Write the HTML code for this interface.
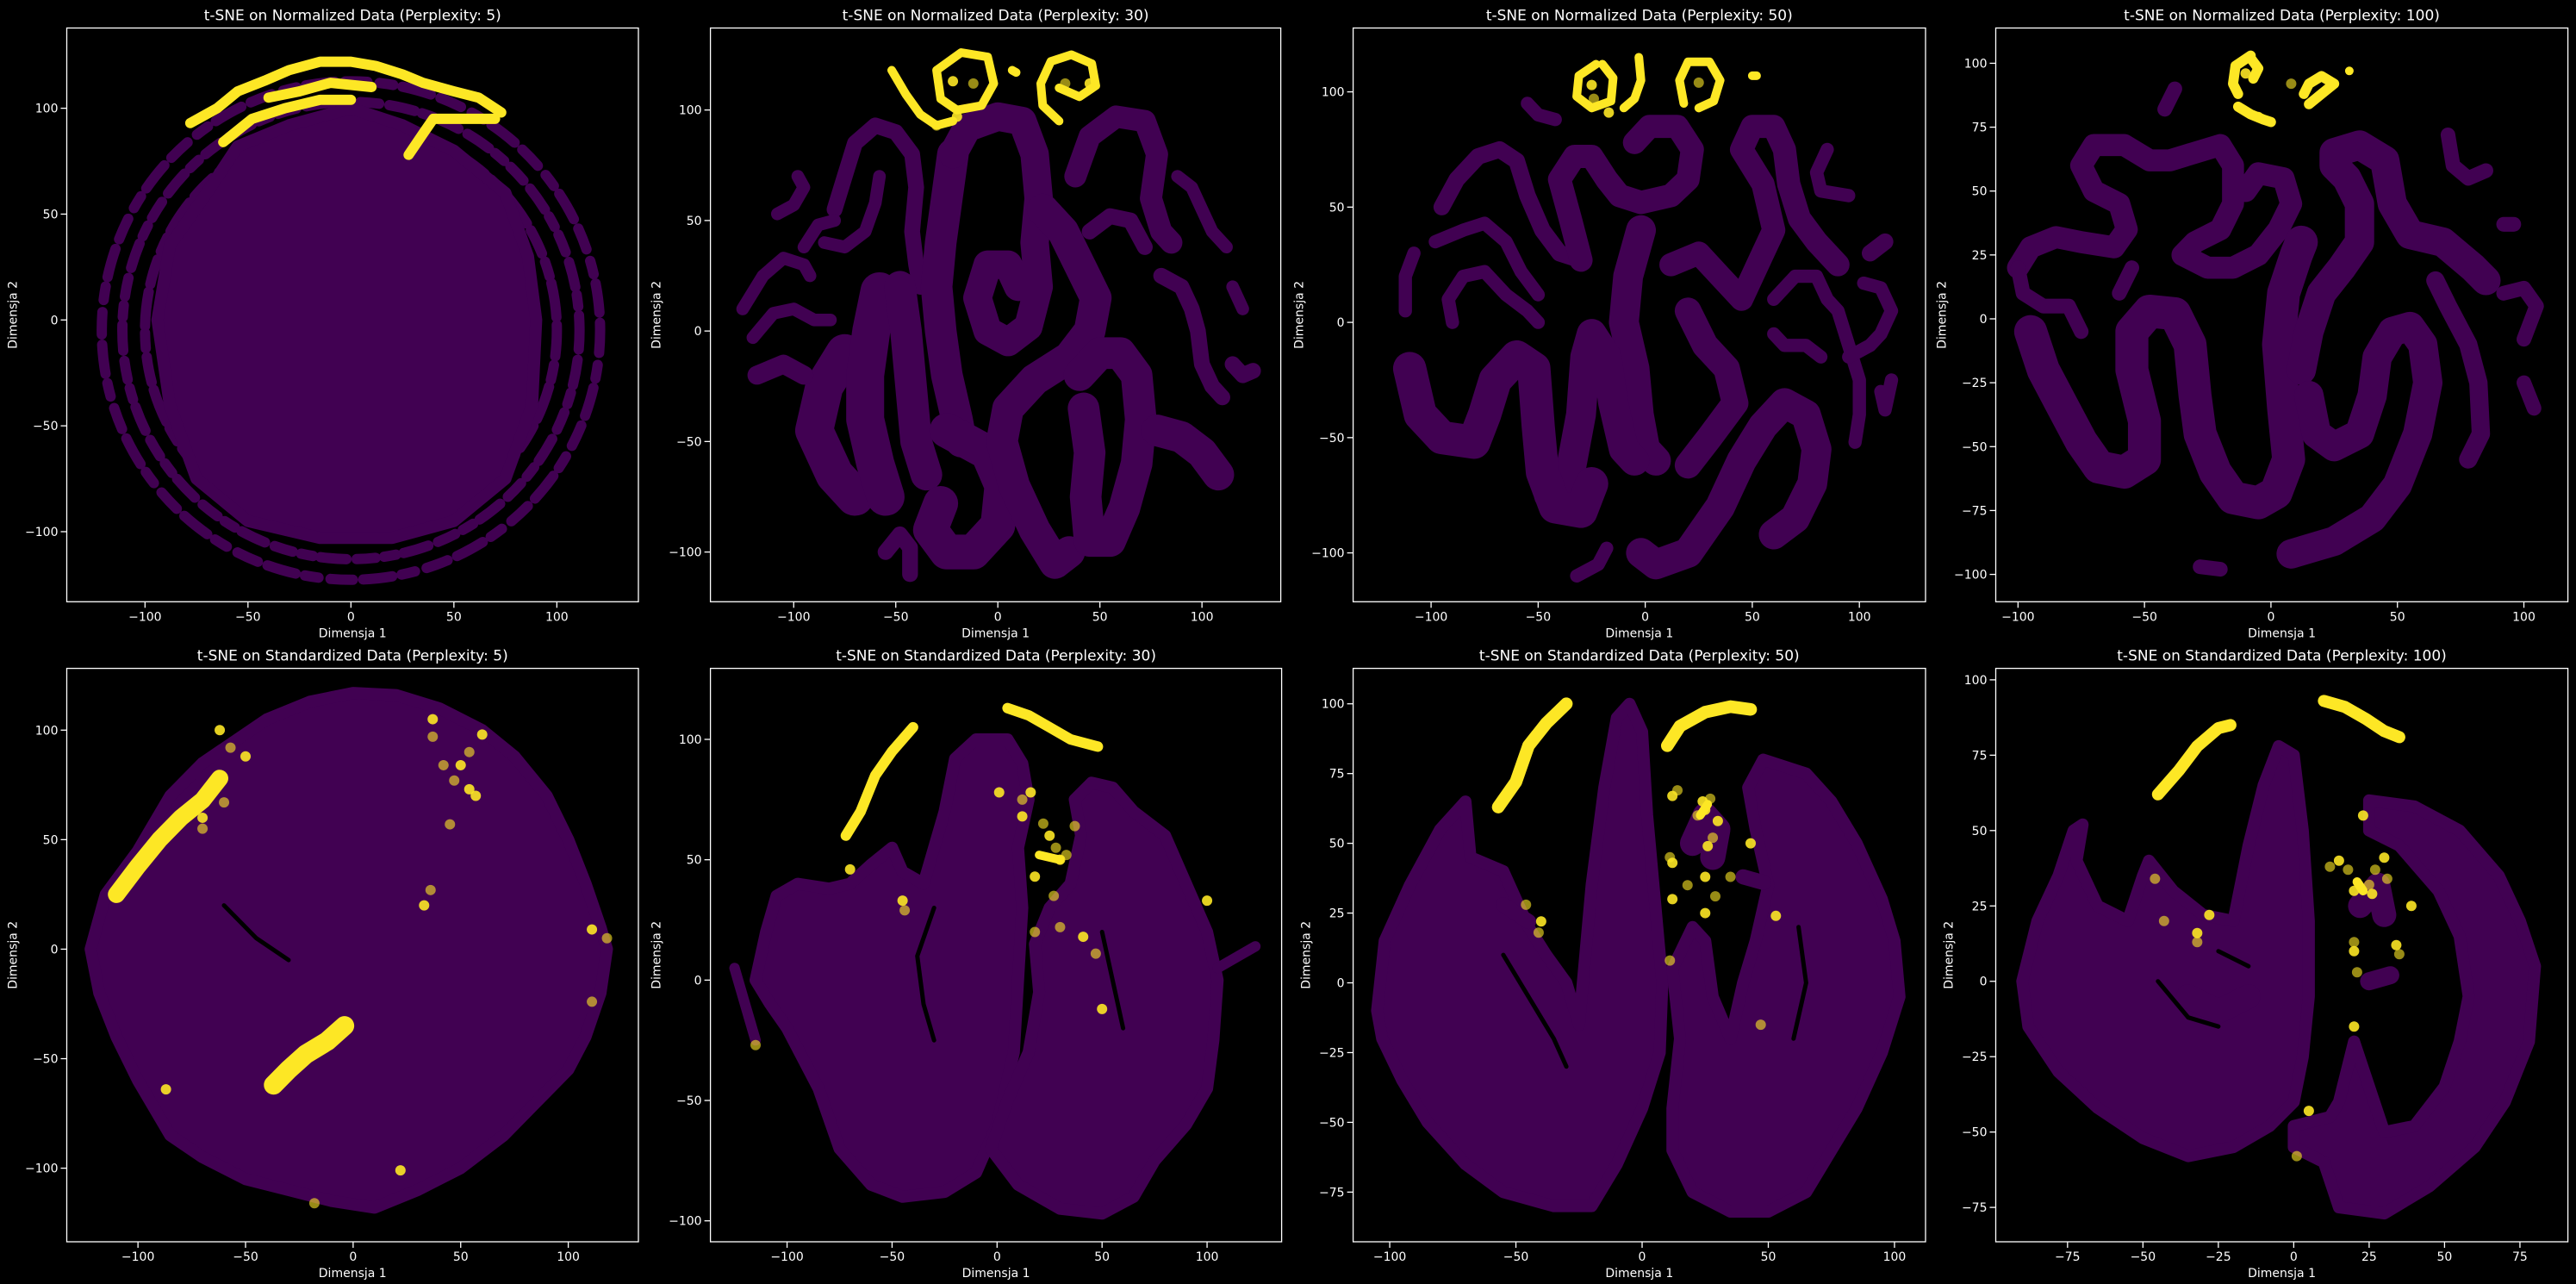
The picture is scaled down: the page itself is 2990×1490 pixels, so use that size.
<!DOCTYPE html>
<html><head><meta charset="utf-8">
<style>
html,body{margin:0;padding:0;background:#000;}
svg{display:block;}
text{font-family:"DejaVu Sans","Liberation Sans",sans-serif;fill:#fff;}
</style></head>
<body>
<svg id="fig" width="2990" height="1490" viewBox="0 0 2990 1490">
<rect x="0" y="0" width="2990" height="1490" fill="#000"/>
</svg>
<script>
// ---------- data (data units) ----------
const titles = ["t-SNE on Normalized Data (Perplexity: 5)","t-SNE on Normalized Data (Perplexity: 30)","t-SNE on Normalized Data (Perplexity: 50)","t-SNE on Normalized Data (Perplexity: 100)","t-SNE on Standardized Data (Perplexity: 5)","t-SNE on Standardized Data (Perplexity: 30)","t-SNE on Standardized Data (Perplexity: 50)","t-SNE on Standardized Data (Perplexity: 100)"];
const xLimits = [[-138,139.6],[-140.8,138.6],[-136.4,130.9],[-108.8,117.4],[-133.1,132.6],[-136.5,135.5],[-114.5,112.3],[-98.8,90.9]];
const yLimits = [[-133.1,137.9],[-122.5,137.1],[-121.2,127.7],[-110.7,113.8],[-133.6,128.2],[-108.7,129.5],[-92.8,112.7],[-86.4,103.8]];
const xTickValues = [[-100,-50,0,50,100],[-100,-50,0,50,100],[-100,-50,0,50,100],[-100,-50,0,50,100],[-100,-50,0,50,100],[-100,-50,0,50,100],[-100,-50,0,50,100],[-75,-50,-25,0,25,50,75]];
const yTickValues = [[-100,-50,0,50,100],[-100,-50,0,50,100],[-100,-50,0,50,100],[-100,-75,-50,-25,0,25,50,75,100],[-100,-50,0,50,100],[-100,-50,0,50,100],[-75,-50,-25,0,25,50,75,100],[-75,-50,-25,0,25,50,75,100]];

// purple dense regions (polygons)
const purplePolys = [
 [[[-94,0],[-88,35],[-70,60],[-55,82],[-30,92],[0,100],[25,92],[50,80],[75,60],[86,30],[90,0],[88,-40],[75,-75],[50,-95],[20,-103],[-15,-103],[-50,-95],[-75,-75],[-88,-40]]],
 [],
 [],
 [],
 [[[-122,0],[-115,25],[-100,45],[-85,70],[-70,85],[-55,95],[-40,105],[-20,113],[0,117],[20,116],[40,110],[60,100],[75,88],[90,70],[100,50],[108,30],[115,10],[118,0],[115,-20],[108,-40],[100,-55],[85,-70],[70,-85],[50,-100],[30,-110],[10,-118],[-10,-115],[-30,-110],[-50,-105],[-70,-95],[-85,-85],[-100,-60],[-110,-40],[-118,-20]]],
 [[[-110,20],[-105,35],[-95,40],[-80,38],[-70,40],[-60,48],[-50,55],[-45,45],[-35,40],[-25,70],[-20,92],[-10,100],[5,100],[12,90],[15,75],[10,55],[12,30],[10,0],[8,-30],[0,-60],[-10,-80],[-25,-88],[-45,-90],[-60,-85],[-75,-70],[-85,-45],[-100,-20],[-108,-10],[-115,0]],
  [[5,-50],[15,-30],[20,-5],[18,15],[25,30],[35,40],[40,60],[37,75],[45,82],[55,80],[65,70],[80,60],[90,40],[100,20],[105,0],[103,-25],[100,-45],[90,-60],[75,-75],[65,-90],[50,-97],[30,-95],[10,-85],[-3,-70]]],
 [[[-105,-10],[-102,15],[-92,35],[-80,55],[-70,65],[-68,45],[-55,40],[-50,30],[-45,20],[-38,10],[-30,0],[-25,-15],[-20,35],[-15,70],[-10,95],[-5,100],[0,90],[2,60],[5,30],[8,0],[7,-25],[0,-45],[-10,-65],[-20,-80],[-35,-80],[-55,-75],[-70,-65],[-85,-50],[-95,-35],[-103,-20]],
  [[12,5],[15,-20],[12,-45],[12,-60],[20,-75],[35,-82],[50,-82],[65,-75],[75,-60],[85,-45],[95,-25],[102,-5],[100,15],[95,30],[85,50],[75,65],[65,75],[48,80],[42,70],[45,55],[50,35],[45,15],[40,0],[35,-20],[28,-5],[25,15],[20,20]]],
 [[[-90,0],[-85,20],[-78,35],[-73,50],[-70,52],[-72,40],[-65,25],[-55,20],[-50,35],[-48,40],[-40,30],[-30,22],[-20,20],[-15,45],[-10,65],[-5,78],[0,75],[3,50],[5,20],[5,-5],[3,-25],[0,-40],[-8,-48],[-20,-55],[-35,-58],[-50,-52],[-65,-42],[-78,-30],[-88,-15]],
  [[25,60],[40,58],[55,50],[68,35],[75,20],[80,5],[78,-20],[70,-40],[60,-55],[45,-68],[30,-77],[15,-75],[10,-60],[0,-55],[0,-48],[12,-45],[15,-40],[20,-20],[25,-35],[30,-50],[40,-48],[50,-35],[55,-20],[58,-5],[55,15],[48,30],[35,45],[25,50]]]
];

// purple worm-like strands (polylines)
const purpleWorms = [
 [],
 [[[-120,-3],[-110,8],[-100,10],[-90,5],[-82,5]],[[-125,10],[-115,25],[-105,33],[-95,30],[-92,25]],[[-108,53],[-100,57],[-95,65],[-98,70]],
  [[-85,40],[-75,38],[-65,45],[-60,58],[-58,70]],[[-80,55],[-75,70],[-70,85],[-60,93],[-50,90],[-42,80],[-40,65],[-42,45],[-40,30],[-38,20]],
  [[-22,80],[-25,60],[-28,40],[-30,20],[-28,0],[-25,-20],[-20,-40],[-18,-50]],
  [[-22,80],[-15,92],[0,97],[12,95],[18,80],[20,60],[18,40],[20,20],[15,2],[5,-5],[-5,0],[-10,15],[-5,30],[5,30],[10,20]],
  [[-75,-10],[-85,-25],[-90,-45],[-80,-65],[-70,-75]],[[-58,18],[-62,0],[-65,-20],[-65,-40],[-60,-60],[-55,-75]],[[-48,20],[-45,0],[-43,-20],[-40,-50],[-35,-65]],[[-118,-20],[-105,-15],[-95,-20]],
  [[-25,-45],[-15,-50],[-5,-55],[2,-70],[0,-88],[-12,-100],[-25,-100],[-33,-90],[-28,-78]],[[-55,-100],[-48,-92],[-43,-98],[-43,-110]],
  [[22,55],[32,45],[40,30],[48,15],[45,0],[35,-12],[18,-22],[5,-35],[2,-50],[8,-70],[18,-90],[28,-105],[35,-100]],
  [[40,-20],[50,-10],[60,-10],[68,-20],[70,-40],[68,-60],[62,-80],[55,-95],[45,-95],[43,-75],[45,-55],[42,-35]],
  [[38,70],[45,88],[58,97],[72,95],[78,80],[75,60],[80,45],[85,40]],[[45,45],[55,52],[65,50],[72,38]],
  [[80,25],[90,20],[95,10],[98,0],[100,-15],[105,-25],[110,-30]],[[88,70],[95,65],[100,55],[105,45],[112,38]],[[115,20],[120,10]],[[115,-15],[120,-20],[125,-18]],
  [[78,-45],[90,-48],[100,-55],[108,-65]],[[-95,38],[-88,48],[-80,50]]],
 [[[-55,95],[-50,90],[-42,88]],[[-95,50],[-88,62],[-78,72],[-68,75],[-60,70],[-55,55],[-48,40],[-40,30],[-30,27]],
  [[-30,27],[-35,45],[-40,62],[-33,72],[-25,72],[-18,62],[-12,55],[-2,52],[12,55],[20,62],[22,75],[15,85],[2,85],[-5,78]],
  [[-98,35],[-85,40],[-75,43],[-65,35],[-58,22],[-50,12]],[[-90,0],[-92,10],[-85,20],[-75,22],[-65,12],[-55,5],[-50,0]],[[-112,5],[-112,20],[-108,30]],
  [[-2,40],[-8,20],[-10,0],[-5,-20],[-3,-40],[0,-55],[5,-60]],
  [[-45,-75],[-35,-65],[-30,-40],[-28,-15],[-25,-5],[-18,-15],[-15,-35],[-10,-55],[-5,-60]],
  [[-110,-20],[-105,-40],[-95,-50],[-80,-52],[-75,-40],[-70,-25],[-60,-15],[-52,-20],[-50,-45],[-48,-65],[-42,-80],[-30,-82],[-25,-70]],
  [[12,25],[25,30],[35,20],[45,10],[50,20],[55,30],[60,40],[55,60],[45,75],[50,85],[60,85],[65,75],[67,60],[72,45],[80,35],[90,25]],
  [[20,5],[28,-10],[38,-20],[42,-35],[30,-50],[20,-62]],
  [[-2,-100],[5,-105],[20,-100],[35,-80],[45,-60],[55,-45],[65,-35],[75,-40],[80,-55],[78,-70],[70,-85],[60,-92]],
  [[-32,-110],[-22,-105],[-18,-98]],[[60,10],[70,20],[80,20],[85,10],[90,5],[95,-10],[100,-25],[100,-40],[98,-52]],[[60,-5],[65,-10],[75,-10],[82,-15]],
  [[95,-15],[105,-10],[110,-5],[115,5],[110,15],[102,17]],[[110,-30],[112,-38],[115,-25]],[[105,30],[112,35]],[[85,75],[80,65],[82,57],[95,55]]],
 [[[-100,20],[-95,28],[-85,32],[-75,30],[-62,28],[-57,35],[-60,45],[-70,50],[-75,60],[-70,68],[-58,68],[-48,62],[-40,62],[-30,65],[-20,68],[-15,60],[-15,45],[-20,35],[-30,30],[-35,25],[-25,20],[-15,20],[-5,25],[3,35],[8,45],[5,55],[-5,57],[-10,50]],
  [[-100,20],[-98,10],[-90,5],[-80,5],[-75,-5]],
  [[-95,-5],[-90,-20],[-82,-35],[-75,-48],[-68,-58],[-58,-60],[-50,-55],[-50,-40],[-55,-20],[-55,-5],[-48,3],[-38,2],[-32,-10],[-30,-30],[-28,-45],[-22,-60],[-15,-70],[-5,-72],[2,-68],[7,-55],[5,-35],[3,-10],[5,10],[10,25],[12,30]],
  [[12,-20],[15,-5],[20,10],[28,20],[35,30],[35,45],[30,55],[25,60],[25,65],[35,68],[45,62],[48,45],[55,33],[68,30],[80,20],[85,15]],
  [[15,-30],[18,-45],[25,-50],[35,-45],[40,-30],[42,-15],[48,-5],[55,-3],[60,-10],[62,-25],[58,-45],[50,-65],[40,-78],[25,-87],[8,-92]],
  [[65,15],[70,5],[78,-10],[82,-25],[83,-45],[78,-55]],[[70,72],[72,60],[78,55],[85,58]],[[92,37],[96,37]],[[92,10],[100,12],[105,5],[100,-8]],[[100,-25],[104,-35]],[[-38,90],[-42,82]],[[-60,10],[-55,20]],[[-28,-97],[-20,-98]]],
 [],
 [[[-125,5],[-120,-10],[-115,-25]],[[105,5],[115,10],[123,14]]],
 [[[20,50],[25,60],[30,55],[28,45]],[[-55,28],[-45,22]],[[40,38],[48,36]]],
 [[[-35,-5],[-25,-10],[-15,-5]],[[22,25],[28,32],[30,22]],[[25,0],[32,2]]]
];
const wormWidths = [[],
 [4,4,4,4,5,10,9,12,12,10,6,11,5,10,10,7,5,5,4,4,5,10,4],
 [4,5,7,4,4,4,9,9,10,7,8,9,4,4,4,4,4,5,4],
 [6,4,9,8,8,5,4,4,4,4,4,4,4],
 [],
 [5,5],
 [10,6,6],
 [8,8,6]];
const wormScale = [1,1.55,1.55,1.45,1,1,1,1];

// black gaps inside dense regions
const gapLines = [[],[],[],[],
 [[[-60,20],[-45,5],[-30,-5]]],
 [[[-30,30],[-38,10],[-35,-10],[-30,-25]],[[50,20],[55,0],[60,-20]]],
 [[[-55,10],[-45,-5],[-35,-20],[-30,-30]],[[60,-20],[65,0],[62,20]]],
 [[[-45,0],[-35,-12],[-25,-15]],[[-25,10],[-15,5]]]];

// ring radii for outer worm ring of panel 1
const ringRadii = [100,111,121];

// yellow strands
const yellowWorms = [
 [[[-78,93],[-65,100],[-55,108],[-42,113],[-30,118],[-15,122],[0,122],[12,120],[25,116],[35,112],[50,108],[62,105],[73,98]],
  [[-62,84],[-48,95],[-32,100],[-15,104],[0,104]],[[28,78],[35,88],[40,95],[55,95],[70,95]],[[-40,105],[-25,108],[-10,112],[10,110]]],
 [[[-52,118],[-45,107],[-38,98],[-30,93],[-22,95]],[[-30,118],[-18,126],[-5,124],[-2,112],[-8,102],[-20,100],[-28,105],[-30,118]],[[7,118],[9,117]],
  [[30,95],[22,102],[21,112],[26,122],[36,125],[46,121],[48,111],[40,106],[30,110]]],
 [[[-23,112],[-31,107],[-32,98],[-25,93],[-16,96],[-15,106],[-20,112]],[[-3,115],[-2,105],[-5,97],[-10,93]],[[18,95],[16,105],[20,113],[30,113],[35,105],[32,96],[25,93]],[[50,107],[52,107]]],
 [[[-8,103],[-14,99],[-15,92],[-13,88]],[[-8,102],[-5,98],[-7,94]],[[-13,83],[-8,80],[-3,78],[0,77]],[[13,88],[15,92],[20,95],[25,92],[20,88],[15,84]],[[31,97],[31,97]]],
 [[[-110,25],[-100,38],[-90,50],[-80,60],[-70,68],[-62,78]],[[-37,-62],[-30,-55],[-22,-48],[-12,-42],[-4,-35]]],
 [[[-72,60],[-65,70],[-58,85],[-50,95],[-40,105]],[[5,113],[15,110],[25,105],[35,100],[48,97]],[[20,52],[30,50]]],
 [[[-57,63],[-50,72],[-45,85],[-38,93],[-30,100]],[[10,85],[15,92],[25,97],[35,99],[43,98]],[[23,60],[26,64]]],
 [[[-45,62],[-38,70],[-32,78],[-25,84],[-21,85]],[[10,93],[17,91],[24,87],[30,83],[35,81]],[[21,33],[23,30]]]
];
const yellowWidths = [[5,5,5,5],[4,4,4,4],[4,4,4,3],[4,4,4,4,3],[8,9],[5,5,3],[5,5,3],[4,4,3]];

// scattered yellow points
const yellowDots = [[],[[-22,113],[-12,112],[-20,97],[33,112],[45,112],[-30,93]],[[-25,103],[-24,97],[-17,91],[25,104]],[[-10,96],[8,92],[-5,79]],
 [[37,105],[37,97],[57,70],[45,57],[33,20],[36,27],[-62,100],[118,5],[111,9],[111,-24],[-87,-64],[-18,-116],[22,-101],[-57,92],[-50,88],[-70,55],[-70,60],[42,84],[50,84],[54,90],[60,98],[47,77],[54,73],[-60,67]],
 [[1,78],[12,75],[16,78],[22,65],[25,60],[28,55],[30,50],[33,52],[18,43],[27,35],[-45,33],[-44,29],[-70,46],[18,20],[41,18],[47,11],[100,33],[-115,-27],[50,-12],[30,22],[12,68],[37,64]],
 [[12,67],[14,69],[25,62],[22,60],[24,65],[27,66],[30,58],[28,52],[26,49],[11,45],[12,43],[18,35],[25,38],[35,38],[43,50],[-46,28],[-40,22],[-41,18],[12,30],[11,8],[25,25],[29,31],[53,24],[47,-15]],
 [[23,55],[12,38],[15,40],[18,37],[20,30],[25,32],[26,29],[27,37],[30,41],[31,34],[39,25],[20,13],[20,10],[21,3],[34,12],[35,9],[20,-15],[-43,20],[-32,16],[-32,13],[5,-43],[1,-58],[-28,22],[-46,34]]
];

// ---------- layout ----------
const boxes = [[77.5,741,32.5,698.3],[824.6,1486.6,32.5,698.3],[1570.6,2235,32.5,698.3],[2316.5,2980.6,32.5,698.3],
 [77.5,741,775.6,1441],[824.6,1487.6,775.6,1441],[1570.6,2235,775.6,1441],[2316.5,2980.6,775.6,1441]];
const yLabelOffsets = [62,62,62,62,62,62,54,54];
const PURPLE = "#410152", YELLOW = "#fde725";
const NS = "http://www.w3.org/2000/svg";
const fig = document.getElementById("fig");

function mk(tag, parent){ const e = document.createElementNS(NS, tag); parent.appendChild(e); return e; }
function fmt(v){ return v < 0 ? "\u2212" + Math.abs(v) : String(v); }

for (let i = 0; i < 8; i++) {
  const [x0,x1,y0,y1] = boxes[i];
  const [xmin,xmax] = xLimits[i], [ymin,ymax] = yLimits[i];
  const sx = v => x0 + (v - xmin) / (xmax - xmin) * (x1 - x0);
  const sy = v => y1 - (v - ymin) / (ymax - ymin) * (y1 - y0);
  const kx = (x1 - x0) / (xmax - xmin);
  const pts = arr => arr.map(p => sx(p[0]).toFixed(1) + "," + sy(p[1]).toFixed(1)).join(" ");

  const g = mk("g", fig);
  
  

  const cp = mk("clipPath", g);
  cp.setAttribute("id", "clip" + i);
  const cr = mk("rect", cp);
  cr.setAttribute("x", x0); cr.setAttribute("y", y0); cr.setAttribute("width", x1 - x0); cr.setAttribute("height", y1 - y0);

  const plot = mk("g", g);
  plot.setAttribute("clip-path", "url(#clip" + i + ")");
  
  

  if (i === 0) {
    const dashes = ["30 10 18 8 40 9", "22 12 30 9 14 10", "26 14 16 11 34 12"];
    ringRadii.forEach((r, j) => {
      const c = mk("ellipse", plot);
      
      
      c.setAttribute("cx", sx(0)); c.setAttribute("cy", sy(-5));
      c.setAttribute("rx", r * kx); c.setAttribute("ry", r * kx);
      c.setAttribute("fill", "none"); c.setAttribute("stroke", PURPLE);
      c.setAttribute("stroke-width", 12);
      c.setAttribute("stroke-dasharray", dashes[j]);
      c.setAttribute("stroke-linecap", "round");
    });
  }
  purplePolys[i].forEach(poly => {
    const p = mk("polygon", plot);
    
    
    p.setAttribute("points", pts(poly));
    p.setAttribute("fill", PURPLE);
    p.setAttribute("stroke", PURPLE); p.setAttribute("stroke-width", 14); p.setAttribute("stroke-linejoin", "round");
  });
  purpleWorms[i].forEach((w, j) => {
    const p = mk("polyline", plot);
    
    
    p.setAttribute("points", pts(w));
    p.setAttribute("fill", "none"); p.setAttribute("stroke", PURPLE);
    p.setAttribute("stroke-width", (wormWidths[i][j] || 5) * wormScale[i] * kx);
    p.setAttribute("stroke-linejoin", "round"); p.setAttribute("stroke-linecap", "round");
  });
  gapLines[i].forEach(w => {
    const p = mk("polyline", plot);
    
    
    p.setAttribute("points", pts(w));
    p.setAttribute("fill", "none"); p.setAttribute("stroke", "#000"); p.setAttribute("stroke-width", 5);
    p.setAttribute("stroke-linecap", "round");
  });
  yellowWorms[i].forEach((w, j) => {
    const p = mk("polyline", plot);
    
    
    p.setAttribute("points", pts(w));
    p.setAttribute("fill", "none"); p.setAttribute("stroke", YELLOW);
    p.setAttribute("stroke-width", Math.max(10, (yellowWidths[i][j] || 4) * kx));
    p.setAttribute("stroke-linejoin", "round"); p.setAttribute("stroke-linecap", "round");
  });
  yellowDots[i].forEach((d, j) => {
    const c = mk("circle", plot);
    
    
    c.setAttribute("cx", sx(d[0])); c.setAttribute("cy", sy(d[1])); c.setAttribute("r", 6);
    c.setAttribute("fill", YELLOW); c.setAttribute("fill-opacity", j % 2 ? 0.6 : 0.9);
  });

  // frame
  const fr = mk("rect", g);
  
  
  fr.setAttribute("x", x0); fr.setAttribute("y", y0); fr.setAttribute("width", x1 - x0); fr.setAttribute("height", y1 - y0);
  fr.setAttribute("fill", "none"); fr.setAttribute("stroke", "#fff"); fr.setAttribute("stroke-width", 1.3);

  xTickValues[i].forEach(v => {
    const t = mk("line", g);
    
    
    t.setAttribute("x1", sx(v)); t.setAttribute("x2", sx(v)); t.setAttribute("y1", y1); t.setAttribute("y2", y1 + 7);
    t.setAttribute("stroke", "#fff"); t.setAttribute("stroke-width", 1.3);
    const l = mk("text", g);
    
    
    l.setAttribute("x", sx(v)); l.setAttribute("y", y1 + 22); l.setAttribute("text-anchor", "middle"); l.setAttribute("font-size", 14);
    l.textContent = fmt(v);
  });
  yTickValues[i].forEach(v => {
    const t = mk("line", g);
    
    
    t.setAttribute("x1", x0 - 7); t.setAttribute("x2", x0); t.setAttribute("y1", sy(v)); t.setAttribute("y2", sy(v));
    t.setAttribute("stroke", "#fff"); t.setAttribute("stroke-width", 1.3);
    const l = mk("text", g);
    
    
    l.setAttribute("x", x0 - 10); l.setAttribute("y", sy(v) + 5); l.setAttribute("text-anchor", "end"); l.setAttribute("font-size", 14);
    l.textContent = fmt(v);
  });
  const xl = mk("text", g);
  
  
  xl.setAttribute("x", (x0 + x1) / 2); xl.setAttribute("y", y1 + 41); xl.setAttribute("text-anchor", "middle"); xl.setAttribute("font-size", 14);
  xl.textContent = "Dimensja 1";
  const yl = mk("text", g);
  
  
  const yx = x0 - yLabelOffsets[i], yy = (y0 + y1) / 2;
  yl.setAttribute("x", yx); yl.setAttribute("y", yy); yl.setAttribute("text-anchor", "middle"); yl.setAttribute("font-size", 14);
  yl.setAttribute("dominant-baseline", "middle");
  yl.setAttribute("transform", "rotate(-90 " + yx + " " + yy + ")");
  yl.textContent = "Dimensja 2";
  const tt = mk("text", g);
  
  
  tt.setAttribute("x", (x0 + x1) / 2); tt.setAttribute("y", y0 - 9); tt.setAttribute("text-anchor", "middle"); tt.setAttribute("font-size", 17);
  tt.textContent = titles[i];
}
</script>
</body></html>
